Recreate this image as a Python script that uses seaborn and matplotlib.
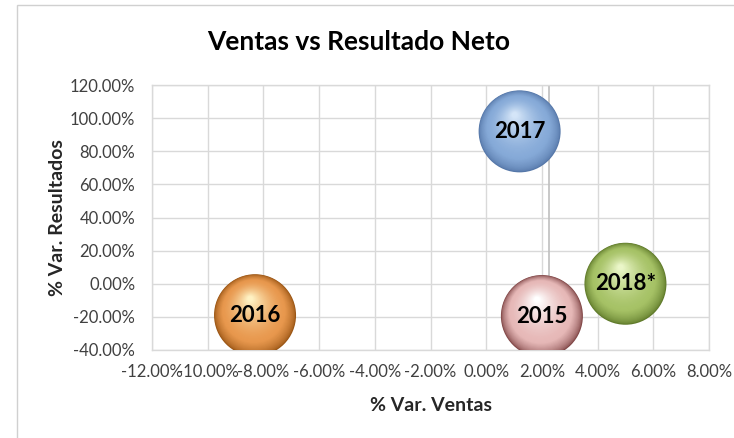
import numpy as np
import pandas as pd
import matplotlib
matplotlib.use("Agg")
import matplotlib.pyplot as plt
import matplotlib.transforms as mtransforms
from matplotlib.colors import to_rgb
from matplotlib.patches import Rectangle
import seaborn as sns

# datos
anios = ["2017", "2018*", "2015", "2016"]
var_ventas = [1.2, 5.0, 2.0, -8.3]          # % Var. Ventas
var_resultados = [92.0, 0.0, -19.5, -19.0]  # % Var. Resultados
tamano = [1.0, 1.0, 1.0, 1.0]               # tamano de burbuja (todas iguales)

# colores de cada esfera: borde oscuro, base, brillo
borde = ["#5577a8", "#5f7a2a", "#804646", "#9a5514"]
base = ["#86aad8", "#a6c266", "#e6b8b7", "#e8984e"]
brillo = ["#d4e5f8", "#eaf6c8", "#ffffff", "#fff1c2"]

x_ticks = np.arange(-12, 8.1, 2)
y_ticks = np.arange(-40, 120.1, 20)

df = pd.DataFrame({"anio": anios, "ventas": var_ventas,
                   "resultados": var_resultados, "tamano": tamano})

sns.set_theme(style="white")
plt.rcParams["font.family"] = ["Lato", "DejaVu Sans"]

fig = plt.figure(figsize=(7.34, 4.38), dpi=100)
ax = fig.add_axes([152 / 734, 1 - 350 / 438, 557 / 734, 265 / 438])

# marco del area del grafico
fig.patches.append(Rectangle((17 / 734, -0.1), 1.2, 1 - 5 / 438 + 0.1,
                             transform=fig.transFigure, fill=False,
                             edgecolor="#d0d0d0", linewidth=1.0, zorder=0))

ax.set_xlim(-12, 8)
ax.set_ylim(-40, 120)
ax.set_xticks(x_ticks)
ax.set_yticks(y_ticks)
ax.set_xticklabels([f"{v:.2f}%" for v in x_ticks])
ax.set_yticklabels([f"{v:.2f}%" for v in y_ticks])
ax.grid(True, color="#d9d9d9", linewidth=1.0)
ax.set_axisbelow(True)
for s in ax.spines.values():
    s.set_color("#d9d9d9")
    s.set_linewidth(1.0)
ax.tick_params(axis="both", length=0, labelsize=12, colors="#404040")
ax.tick_params(axis="y", pad=12)
ax.tick_params(axis="x", pad=10)
ax.axvline(2.25, color="#bfbfbf", linewidth=1.2, zorder=1)

# esferas: capas de circulos que se desplazan hacia el brillo
R = 41 * 0.72  # radio en puntos
n_capas = 50
hx, hy = -0.12 * R, 0.40 * R


def mezcla(c1, c2, f):
    a, b = np.array(to_rgb(c1)), np.array(to_rgb(c2))
    return tuple(a + (b - a) * f)


for i in range(n_capas):
    t = i / (n_capas - 1)
    r = R * (1 - 0.93 * t)
    if t < 0.25:
        cols = [mezcla(borde[k], base[k], (t / 0.25) ** 0.6) for k in range(len(anios))]
    else:
        f = ((t - 0.25) / 0.75) ** 1.5
        cols = [mezcla(base[k], brillo[k], f) for k in range(len(anios))]
    n_prev = len(ax.collections)
    sns.scatterplot(data=df, x="ventas", y="resultados", hue="anio",
                    palette=dict(zip(anios, cols)),
                    size="tamano", sizes=((2 * r) ** 2, (2 * r) ** 2),
                    linewidth=0, legend=False, ax=ax, zorder=3 + i * 0.01)
    pc = ax.collections[n_prev]
    pc.set_offset_transform(mtransforms.offset_copy(ax.transData, fig=fig,
                                                    x=hx * t, y=hy * t, units="points"))

for a, xv, yv in zip(anios, var_ventas, var_resultados):
    ax.text(xv, yv, a, ha="center", va="center", fontsize=16,
            fontweight="bold", color="black", zorder=10)

ax.set_xlabel("% Var. Ventas", fontsize=14, fontweight="bold", color="#262626", labelpad=12)
ax.set_ylabel("% Var. Resultados", fontsize=14, fontweight="bold", color="#262626", labelpad=3)
fig.text(359 / 734, 1 - 42 / 438, "Ventas vs Resultado Neto", ha="center", va="center",
         fontsize=19, fontweight="bold", color="black")

fig.savefig("out.png", dpi=100)
